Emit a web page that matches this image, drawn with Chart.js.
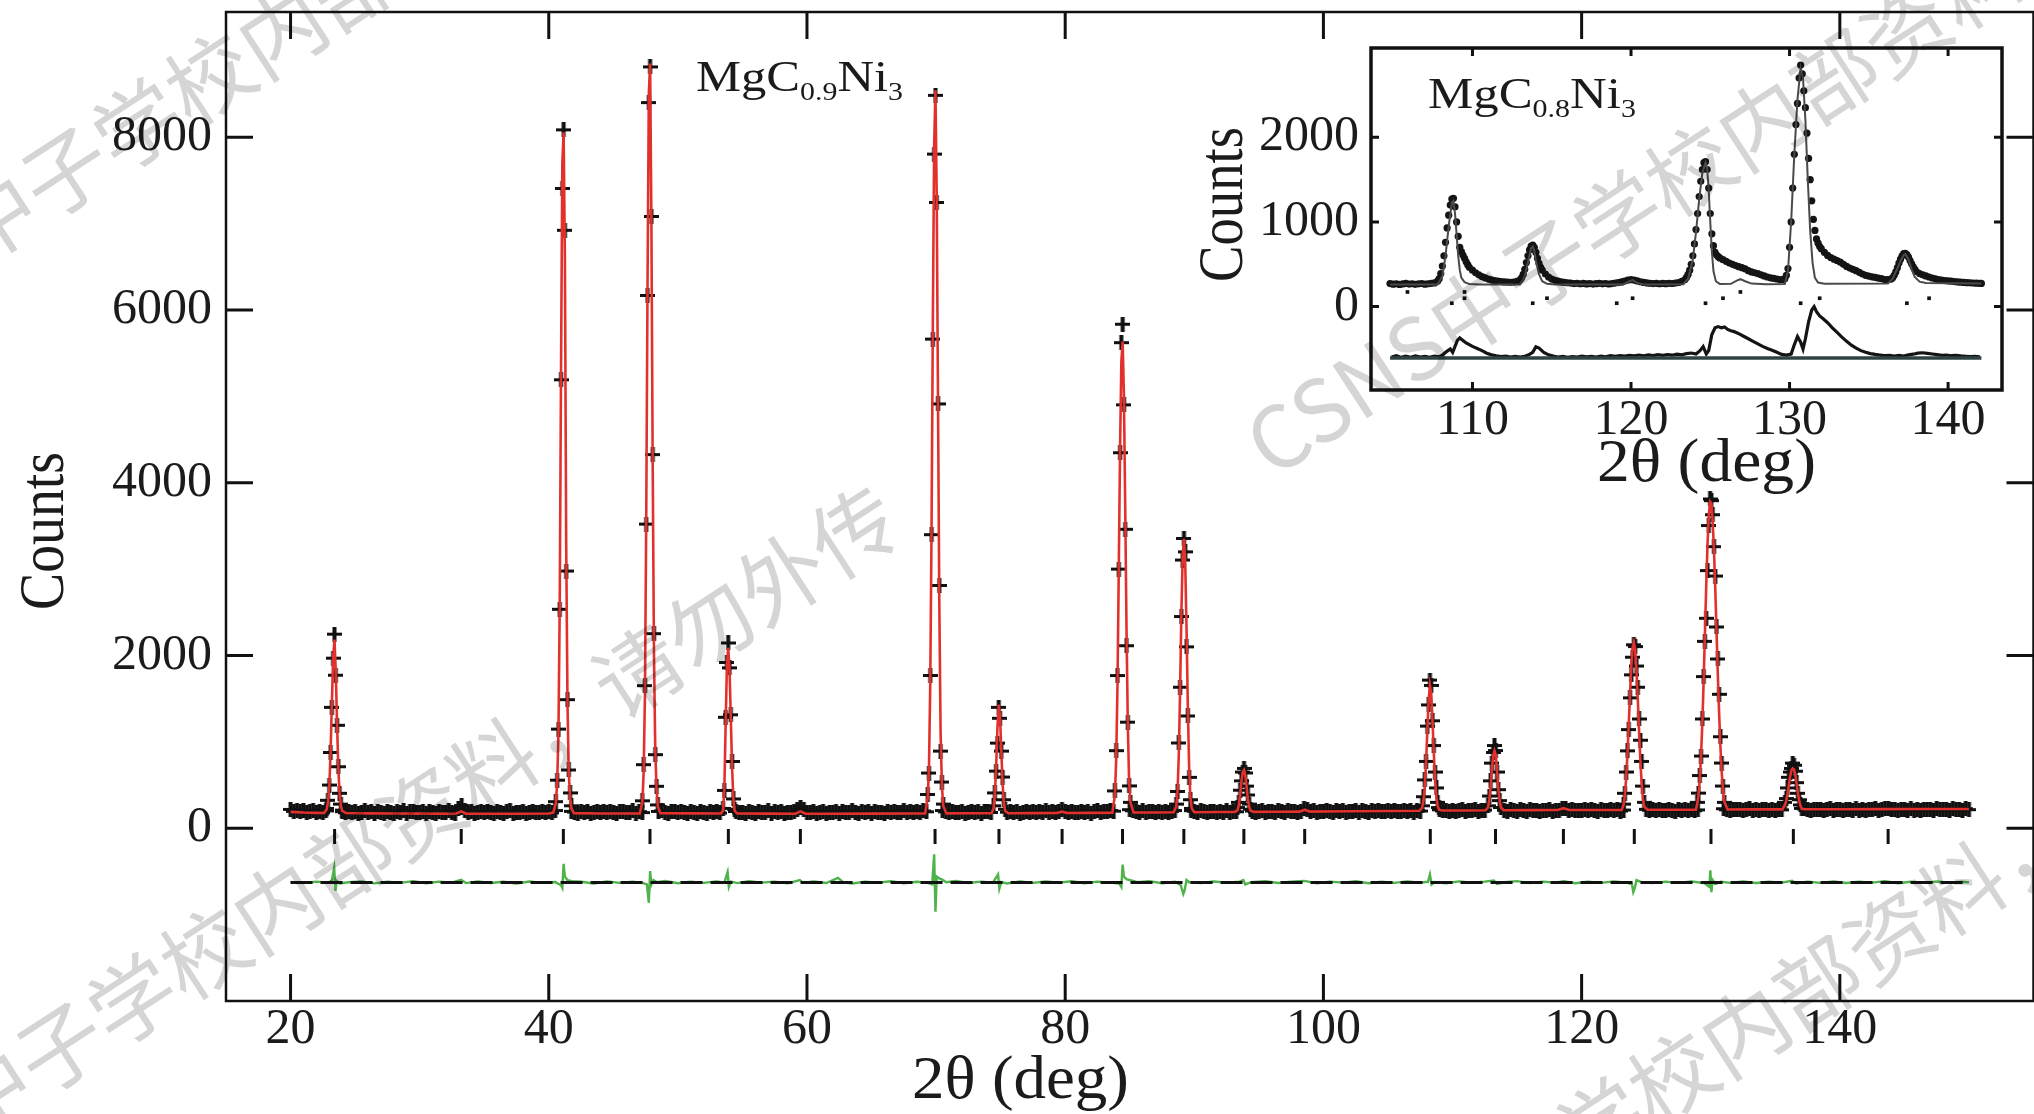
<!DOCTYPE html>
<html>
<head>
<meta charset="utf-8">
<title>MgC0.9Ni3 neutron diffraction refinement</title>
<script src="https://cdn.jsdelivr.net/npm/chart.js@4.4.1/dist/chart.umd.min.js"></script>
<style>
  html, body { margin: 0; padding: 0; background: #fff; overflow: hidden; }
  #wrap { position: relative; width: 2034px; height: 1114px; overflow: hidden; }
  #main { position: absolute; left: 0; top: 0; }
  #inset { position: absolute; left: 1180px; top: 40px; }
  #mark { position: absolute; left: 0; top: 0; mix-blend-mode: multiply; pointer-events: none; }
</style>
</head>
<body>
<div id="wrap">
  <canvas id="main" width="2044" height="1114"></canvas>
  <canvas id="inset" width="854" height="460"></canvas>
  <canvas id="mark" width="2034" height="1114"></canvas>
</div>
<script>
// ---- main pattern: MgC0.9Ni3 ----
const xTicks = [20, 40, 60, 80, 100, 120, 140];
const yTicks = [0, 2000, 4000, 6000, 8000];

// observed background, one value every 0.25 deg from 20 deg (null where a peak list takes over)
const scanStart = 20, scanStep = 0.25;
const obsBackground = [
  218, 196, 210, 189, 204, 182, 199, 207, 186, 195, 178, 201, null, null, null, null, 192, 180, 199, 186,
  194, 172, 188, 201, 179, 190, 168, 197, 183, 176, 199, 185, 170, 193, 181, 204, 175, 189, 196, 178,
  186, 199, 174, 190, 182, 168, 195, 187, 178, 201, 184, 172, 225, 262, 210, 181, 193, 175, 188, 196,
  179, 192, 185, 170, 198, 183, 176, 190, 202, 174, 187, 181, 195, 169, 188, 199, 177, 184, 193, 186,
  191, 178, 205, null, null, null, null, 196, 188, 176, 193, 182, 199, 170, 186, 194, 179, 190, 183, 197,
  184, 173, 190, 198, 179, 187, 200, 176, 192, 181, null, null, null, null, 195, 201, 183, 172, 189, 195,
  178, 191, 185, 169, 197, 182, 176, 193, 188, 171, 199, 184, 190, 177, null, null, null, null, 194, 180,
  187, 175, 196, 183, 170, 192, 186, 179, 201, 174, 189, 182, 195, 176, 188, 179, 193, 218, 246, 212,
  186, 178, 194, 170, 183, 199, 175, 188, 181, 196, 172, 190, 184, 177, 200, 186, 173, 192, 181, 189,
  176, 195, 183, 188, 171, 198, 180, 191, 177, 186, 202, 184, 193, 179, 196, 187, 200, 191, null, null,
  null, null, 205, 190, 183, 197, 178, 188, 193, 174, 186, 199, 181, 192, 176, 189, 195, 183, null, null,
  null, null, 186, 197, 180, 191, 175, 188, 199, 182, 193, 178, 190, 185, 201, 177, 194, 186, 190, 214,
  196, 181, 192, 185, 178, 199, 188, 193, 176, 190, 202, 184, 197, 189, 206, 198, null, null, null, null,
  215, 203, 197, 188, 201, 184, 195, 190, 179, 198, 187, 193, 182, 196, 205, null, null, null, null, 204,
  197, 186, 201, 190, 183, 199, 192, 178, 195, 188, 204, 185, 196, 191, null, null, null, null, 199, 187,
  194, 203, 185, 198, 190, 181, 200, 193, 187, 205, 189, 196, 184, 199, 226, 214, 191, 202, 188, 197,
  190, 204, 196, 185, 201, 193, 208, 188, 199, 192, 206, 187, 200, 195, 183, 203, 197, 210, 190, 198,
  205, 192, 211, 198, 190, 207, 196, 203, 188, 209, 199, null, null, null, null, null, 214, 201, 207, 195,
  210, 198, 204, 213, 195, 207, 200, 216, 193, 205, 211, null, null, null, null, null, 208, 199, 214, 203,
  196, 212, 205, 199, 215, 202, 208, 194, 211, 204, 217, 198, 209, 203, 230, 224, 206, 213, 200, 210,
  205, 218, 201, 212, 207, 196, 214, 209, 203, 220, 206, 215, 199, 211, null, null, null, null, null, null,
  219, 208, 215, 202, 221, 210, 204, 217, 211, 198, 214, 207, 222, 209, 216, 203, 212, null, null, null,
  null, null, null, null, 226, 214, 208, 221, 212, 218, 205, 216, 223, 210, 219, 206, 215, 222, 211, 217,
  209, 220, 213, null, null, null, null, null, null, 224, 214, 207, 221, 212, 218, 204, 216, 223, 210, 219,
  213, 207, 222, 215, 209, 224, 211, 218, 205, 220, 214, 226, 210, 217, 223, 229, 212, 219, 208, 221,
  216, 209, 224, 211, 219, 205, 222, 214, 218, 208, 225, 212, 217, 221, 210, 223, 213, 219, 207, 226,
  215
];

// observed points across the Bragg peaks
const peakObsX = [
  22.8, 22.9, 23.0, 23.1, 23.2, 23.3, 23.4, 23.5, 23.6, 23.7, 23.8, 23.9, 24.0,
  40.55, 40.65, 40.75, 40.85, 40.95, 41.05, 41.15, 41.25, 41.35, 41.45, 41.55, 41.65, 41.75,
  47.25, 47.35, 47.45, 47.55, 47.65, 47.75, 47.85, 47.95, 48.05, 48.15, 48.25, 48.35, 48.45,
  53.5, 53.6, 53.7, 53.8, 53.9, 54.0, 54.1, 54.2, 54.3, 54.4,
  69.35, 69.45, 69.55, 69.65, 69.75, 69.85, 69.95, 70.05, 70.15, 70.25, 70.35, 70.45, 70.55,
  74.45, 74.55, 74.65, 74.75, 74.85, 74.95, 75.05, 75.15, 75.25, 75.35,
  83.85, 83.95, 84.05, 84.15, 84.25, 84.35, 84.45, 84.55, 84.65, 84.75, 84.85, 84.95, 85.05,
  88.6, 88.7, 88.8, 88.9, 89.0, 89.1, 89.2, 89.3, 89.4, 89.5, 89.6, 89.7, 89.8,
  93.35, 93.45, 93.55, 93.65, 93.75, 93.85, 93.95, 94.05, 94.15, 94.25, 94.35,
  107.65, 107.75, 107.85, 107.95, 108.05, 108.15, 108.25, 108.35, 108.45, 108.55, 108.65, 108.75, 108.85, 108.95,
  112.75, 112.85, 112.95, 113.05, 113.15, 113.25, 113.35, 113.45, 113.55, 113.65, 113.75,
  123.25, 123.35, 123.45, 123.55, 123.65, 123.75, 123.85, 123.95, 124.05, 124.15, 124.25, 124.35, 124.45, 124.55, 124.65, 124.75, 124.85,
  128.95, 129.05, 129.15, 129.25, 129.35, 129.45, 129.55, 129.65, 129.75, 129.85, 129.95, 130.05, 130.15, 130.25, 130.35, 130.45, 130.55, 130.65, 130.75, 130.85, 130.95, 131.05,
  135.75, 135.85, 135.95, 136.05, 136.15, 136.25, 136.35, 136.45, 136.55, 136.65, 136.75, 136.85, 136.95, 137.05
];
const peakObsY = [
  230, 324, 500, 877, 1400, 1969, 2247, 1772, 1192, 712, 405, 280, 210,
  308, 557, 1148, 2535, 5192, 7407, 8086, 6923, 2978, 1489, 675, 409, 260,
  318, 736, 1651, 3521, 6168, 8401, 8814, 7083, 4326, 2253, 852, 486, 270,
  230, 438, 1285, 1919, 2145, 1857, 1314, 773, 340, 220,
  391, 639, 1769, 3399, 5663, 7805, 8485, 7245, 4913, 2811, 893, 535, 280,
  260, 409, 662, 986, 1400, 1273, 893, 593, 330, 220,
  432, 898, 1768, 3000, 4348, 5622, 5835, 4902, 3461, 2113, 1228, 490, 300,
  280, 426, 987, 1633, 2451, 3105, 3355, 3200, 2100, 1300, 589, 330, 230,
  240, 300, 440, 549, 651, 693, 640, 488, 385, 280, 220,
  260, 365, 560, 774, 1183, 1428, 1715, 1654, 1244, 958, 651, 467, 300, 240,
  260, 373, 549, 754, 877, 958, 900, 651, 447, 320, 240,
  280, 405, 651, 896, 1142, 1510, 1776, 1980, 2124, 2103, 1878, 1633, 1265, 1019, 774, 488, 300,
  300, 407, 610, 836, 1265, 1756, 2164, 2431, 2983, 3505, 3812, 3793, 3630, 3260, 2920, 2330, 1960, 1551, 1060, 755, 489, 300,
  300, 344, 467, 590, 651, 693, 754, 730, 660, 528, 405, 330, 270, 230
];

// calculated profile (red)
const calcX = [
  20.0, 21.0, 22.0, 22.6,
  22.8, 22.9, 23.0, 23.1, 23.2, 23.3, 23.4, 23.5, 23.6, 23.7, 23.8, 23.9, 24.0,
  24.3, 26.0, 28.0, 30.0, 32.8, 33.22, 33.6, 36.0, 38.0, 40.0, 40.35,
  40.55, 40.65, 40.75, 40.85, 40.95, 41.05, 41.15, 41.25, 41.35, 41.45, 41.55, 41.65, 41.75,
  41.95, 44.0, 47.05,
  47.25, 47.35, 47.45, 47.55, 47.65, 47.75, 47.85, 47.95, 48.05, 48.15, 48.25, 48.35, 48.45,
  48.65, 51.0, 53.35,
  53.5, 53.6, 53.7, 53.8, 53.9, 54.0, 54.1, 54.2, 54.3, 54.4,
  54.6, 57.0, 59.1, 59.49, 59.9, 62.0, 65.0, 68.0, 69.15,
  69.35, 69.45, 69.55, 69.65, 69.75, 69.85, 69.95, 70.05, 70.15, 70.25, 70.35, 70.45, 70.55,
  70.8, 73.0, 74.3,
  74.45, 74.55, 74.65, 74.75, 74.85, 74.95, 75.05, 75.15, 75.25, 75.35,
  75.6, 77.5, 79.35, 79.76, 80.15, 82.0, 83.65,
  83.85, 83.95, 84.05, 84.15, 84.25, 84.35, 84.45, 84.55, 84.65, 84.75, 84.85, 84.95, 85.05,
  85.3, 87.0, 88.4,
  88.6, 88.7, 88.8, 88.9, 89.0, 89.1, 89.2, 89.3, 89.4, 89.5, 89.6, 89.7, 89.8,
  90.0, 92.0, 93.15,
  93.35, 93.45, 93.55, 93.65, 93.75, 93.85, 93.95, 94.05, 94.15, 94.25, 94.35,
  94.6, 96.5, 98.15, 98.55, 98.95, 102.0, 105.0, 107.45,
  107.65, 107.75, 107.85, 107.95, 108.05, 108.15, 108.25, 108.35, 108.45, 108.55, 108.65, 108.75, 108.85, 108.95,
  109.2, 111.0, 112.55,
  112.75, 112.85, 112.95, 113.05, 113.15, 113.25, 113.35, 113.45, 113.55, 113.65, 113.75,
  113.95, 116.0, 118.15, 118.59, 119.05, 121.0, 123.1,
  123.25, 123.35, 123.45, 123.55, 123.65, 123.75, 123.85, 123.95, 124.05, 124.15, 124.25, 124.35, 124.45, 124.55, 124.65, 124.75, 124.85,
  125.1, 127.0, 128.85,
  128.95, 129.05, 129.15, 129.25, 129.35, 129.45, 129.55, 129.65, 129.75, 129.85, 129.95, 130.05, 130.15, 130.25, 130.35, 130.45, 130.55, 130.65, 130.75, 130.85, 130.95, 131.05,
  131.3, 133.0, 135.55,
  135.75, 135.85, 135.95, 136.05, 136.15, 136.25, 136.35, 136.45, 136.55, 136.65, 136.75, 136.85, 136.95, 137.05,
  137.3, 140.0, 143.0, 146.0, 150.0
];
const calcY = [
  190, 182, 178, 176,
  220, 300, 480, 880, 1450, 1980, 2185, 1830, 1220, 700, 390, 260, 200,
  176, 172, 170, 169, 168, 195, 168, 168, 168, 170, 180,
  290, 520, 1100, 2600, 5300, 7700, 8057, 6600, 3300, 1450, 640, 360, 230,
  175, 171, 172,
  300, 650, 1550, 3600, 6300, 8500, 8853, 7000, 4200, 2000, 900, 450, 250,
  173, 172, 171,
  210, 450, 1200, 1900, 2088, 1850, 1280, 700, 330, 200,
  170, 169, 168, 195, 168, 168, 169, 171, 172,
  350, 700, 1700, 3500, 5900, 7900, 8543, 7300, 4900, 2600, 1100, 500, 260,
  172, 173, 174,
  230, 390, 700, 1150, 1430, 1300, 900, 520, 300, 200,
  174, 175, 176, 192, 176, 178, 180,
  380, 800, 1650, 3000, 4400, 5400, 5634, 5000, 3700, 2300, 1200, 550, 300,
  182, 183, 185,
  250, 420, 850, 1600, 2500, 3150, 3350, 3050, 2300, 1400, 700, 350, 230,
  186, 188, 189,
  210, 270, 390, 540, 650, 674, 610, 480, 340, 250, 205,
  190, 191, 192, 215, 193, 197, 200, 203,
  240, 320, 480, 760, 1130, 1480, 1654, 1560, 1250, 880, 560, 360, 260, 215,
  205, 206, 208,
  240, 330, 480, 680, 840, 896, 850, 660, 460, 320, 240,
  209, 210, 211, 232, 211, 212, 213,
  270, 380, 580, 860, 1200, 1560, 1880, 2090, 2150, 2060, 1830, 1500, 1130, 790, 520, 340, 250,
  214, 215, 216,
  280, 380, 560, 840, 1220, 1700, 2250, 2800, 3280, 3620, 3780, 3760, 3560, 3220, 2780, 2280, 1780, 1330, 950, 650, 440, 310,
  217, 218, 219,
  270, 320, 400, 500, 600, 670, 693, 680, 620, 520, 410, 320, 260, 225,
  220, 220, 221, 222, 222
];

// difference curve (green), drawn around its zero line
const diffZero = -627;
const diffX = [
  20.0, 21.0, 22.0, 23.0, 23.2, 23.3, 23.38, 23.48, 23.58, 23.8, 24.5, 25.5, 26.5, 27.5, 28.5, 29.5,
  30.5, 31.5, 32.5, 33.2, 33.6, 34.5, 35.5, 36.5, 37.5, 38.5, 39.5, 40.5, 40.95, 41.05, 41.15, 41.25,
  41.45, 41.8, 42.5, 43.5, 44.5, 45.5, 46.5, 47.3, 47.6, 47.75, 47.85, 47.95, 48.1, 48.4, 49.0, 50.0,
  51.0, 52.0, 53.0, 53.6, 53.85, 53.95, 54.1, 54.6, 55.5, 56.5, 57.5, 58.5, 59.45, 59.7, 60.5, 61.5,
  62.4, 62.8, 63.5, 64.5, 65.5, 66.5, 67.5, 68.5, 69.3, 69.7, 69.85, 69.95, 70.05, 70.25, 70.5, 70.8,
  71.5, 72.5, 73.5, 74.4, 74.8, 74.9, 75.05, 75.5, 76.5, 77.5, 78.5, 79.5, 80.5, 81.5, 82.5, 83.5,
  84.2, 84.35, 84.45, 84.55, 84.75, 85.1, 85.6, 86.5, 87.5, 88.5, 88.95, 89.15, 89.25, 89.4, 89.6, 90.5,
  91.5, 92.5, 93.5, 93.8, 93.95, 94.4, 95.5, 96.5, 97.5, 98.5, 99.5, 100.5, 101.5, 102.5, 103.5, 104.5,
  105.5, 106.5, 107.5, 108.1, 108.25, 108.38, 108.6, 109.5, 110.5, 111.5, 112.5, 113.2, 113.45, 114.0, 115.0, 116.0,
  117.0, 118.0, 118.6, 119.5, 120.5, 121.5, 122.5, 123.5, 123.9, 124.0, 124.12, 124.25, 124.6, 125.5, 126.5, 127.5,
  128.5, 129.5, 129.9, 129.97, 130.05, 130.15, 130.35, 130.8, 131.5, 132.5, 133.5, 134.5, 135.5, 136.3, 136.6, 137.5,
  138.5, 139.5, 140.5, 141.5, 142.5, 143.5, 144.5, 145.5, 146.5, 147.5, 148.5, 149.5, 150.0
];
const diffY = [
  -622, -634, -618, -630, -600, -520, -454, -724, -610, -640, -625, -615, -638, -620, -632, -612,
  -636, -618, -630, -598, -635, -615, -634, -620, -640, -616, -632, -622, -660, -690, -412, -560,
  -600, -612, -620, -640, -615, -632, -618, -635, -650, -863, -496, -650, -600, -625, -610, -636,
  -618, -632, -615, -630, -507, -679, -618, -635, -612, -630, -618, -638, -600, -632, -616, -634,
  -575, -625, -640, -618, -630, -614, -636, -620, -630, -650, -302, -965, -560, -580, -598, -625,
  -610, -634, -618, -630, -535, -700, -622, -640, -615, -632, -616, -630, -614, -636, -618, -630,
  -640, -679, -420, -560, -590, -605, -625, -612, -636, -620, -660, -760, -720, -600, -625, -635,
  -616, -630, -618, -600, -650, -625, -612, -634, -620, -610, -636, -618, -630, -614, -636, -620,
  -632, -615, -630, -620, -535, -650, -622, -636, -615, -630, -618, -605, -645, -625, -612, -635,
  -618, -630, -612, -636, -620, -632, -615, -630, -650, -739, -690, -600, -622, -635, -618, -632,
  -616, -635, -680, -486, -739, -600, -645, -620, -632, -615, -634, -620, -630, -608, -640, -618,
  -632, -616, -634, -618, -630, -612, -636, -620, -632, -616, -630, -620, -627
];

// Bragg reflection markers
const braggPos = [23.41, 33.22, 41.13, 47.84, 53.91, 59.49, 69.92, 74.87, 79.76, 84.44,
  89.19, 93.84, 98.55, 108.28, 113.33, 118.59, 124.08, 130.02, 136.40, 143.74];
const braggLevel = -95;

// ---- inset: MgC0.8Ni3, 104-143 deg ----
const insetXTicks = [110, 120, 130, 140];
const insetYTicks = [0, 1000, 2000];
const insetObsX = [
  104.8, 105.0, 105.2, 105.4, 105.6, 105.8, 106.0, 106.2, 106.4, 106.6, 106.8, 107.0, 107.2, 107.4, 107.6, 107.8,
  107.9, 108.0, 108.1, 108.2, 108.3, 108.4, 108.5, 108.6, 108.7, 108.8, 108.9, 109.0, 109.1, 109.2, 109.3, 109.4,
  109.5, 109.6, 109.7, 109.8, 110.0, 110.2, 110.4, 110.6, 110.8, 111.0, 111.2, 111.4, 111.6, 111.8, 112.0, 112.2,
  112.4, 112.6, 112.8, 113.0, 113.1, 113.2, 113.3, 113.4, 113.5, 113.6, 113.7, 113.8, 113.9, 114.0, 114.1, 114.2,
  114.3, 114.4, 114.6, 114.8, 115.0, 115.2, 115.4, 115.6, 115.8, 116.0, 116.2, 116.4, 116.6, 116.8, 117.0, 117.2,
  117.4, 117.6, 117.8, 118.0, 118.2, 118.4, 118.6, 118.8, 119.0, 119.2, 119.4, 119.6, 119.8, 120.0, 120.2, 120.4,
  120.6, 120.8, 121.0, 121.2, 121.4, 121.6, 121.8, 122.0, 122.2, 122.4, 122.6, 122.8, 123.0, 123.2, 123.4, 123.5,
  123.6, 123.7, 123.8, 123.9, 124.0, 124.1, 124.2, 124.3, 124.4, 124.5, 124.6, 124.7, 124.8, 124.9, 125.0, 125.1,
  125.2, 125.3, 125.4, 125.5, 125.6, 125.8, 126.0, 126.2, 126.4, 126.6, 126.8, 127.0, 127.2, 127.4, 127.6, 127.8,
  128.0, 128.2, 128.4, 128.6, 128.8, 129.0, 129.2, 129.4, 129.6, 129.7, 129.8, 129.9, 130.0, 130.1, 130.2, 130.3,
  130.4, 130.5, 130.6, 130.7, 130.8, 130.9, 131.0, 131.1, 131.2, 131.3, 131.4, 131.5, 131.6, 131.7, 131.8, 131.9,
  132.0, 132.2, 132.4, 132.6, 132.8, 133.0, 133.2, 133.4, 133.6, 133.8, 134.0, 134.2, 134.4, 134.6, 134.8, 135.0,
  135.2, 135.4, 135.6, 135.8, 136.0, 136.2, 136.4, 136.5, 136.6, 136.7, 136.8, 136.9, 137.0, 137.1, 137.2, 137.3,
  137.4, 137.5, 137.6, 137.7, 137.8, 137.9, 138.0, 138.2, 138.4, 138.6, 138.8, 139.0, 139.2, 139.4, 139.6, 139.8,
  140.0, 140.2, 140.4, 140.6, 140.8, 141.0, 141.2, 141.4, 141.6, 141.8, 142.0, 142.1
];
const insetObsY = [
  272, 265, 270, 262, 268, 274, 266, 270, 263, 269, 273, 265, 270, 275, 280, 300,
  330, 390, 480, 600, 760, 930, 1080, 1200, 1270, 1280, 1180, 1000, 830, 700, 650, 610,
  570, 530, 495, 465, 430, 400, 375, 355, 340, 325, 315, 306, 300, 296, 292, 290,
  287, 290, 298, 315, 340, 380, 440, 520, 600, 670, 715, 728, 700, 640, 570, 510,
  465, 430, 385, 350, 325, 310, 300, 292, 286, 282, 278, 272, 276, 270, 274, 268,
  272, 266, 271, 275, 269, 273, 267, 272, 278, 284, 292, 302, 312, 318, 314, 304,
  294, 286, 280, 276, 272, 275, 270, 274, 271, 276, 273, 279, 285, 298, 320, 345,
  380, 430, 500, 600, 740, 910, 1100, 1300, 1480, 1620, 1700, 1712, 1620, 1400, 1100, 860,
  720, 640, 610, 590, 575, 555, 535, 515, 500, 485, 472, 460, 445, 425, 410, 400,
  390, 375, 362, 350, 340, 333, 326, 320, 318, 330, 370, 450, 700, 1000, 1400, 1800,
  2150, 2400, 2700, 2853, 2750, 2550, 2350, 2050, 1750, 1500, 1250, 1030, 900, 800, 750, 710,
  685, 640, 605, 580, 560, 545, 525, 500, 475, 455, 440, 425, 405, 385, 370, 360,
  352, 345, 336, 330, 320, 318, 325, 340, 370, 410, 460, 515, 560, 600, 625, 630,
  615, 585, 545, 505, 470, 440, 415, 390, 375, 362, 350, 338, 328, 320, 314, 308,
  304, 300, 296, 292, 289, 286, 283, 281, 279, 277, 276, 274
];
const insetCalcX = [
  104.8, 107.8, 108.1, 108.3, 108.5, 108.7, 108.8, 108.9, 109.0, 109.1, 109.2, 109.3, 109.5, 109.8, 110.5,
  113.0, 113.3, 113.5, 113.7, 113.8, 113.9, 114.0, 114.2, 114.4, 114.7, 115.2,
  119.5, 119.9, 120.1, 120.4, 120.8, 123.3, 123.6, 123.9, 124.1, 124.3, 124.5, 124.7, 124.8, 124.9, 125.0,
  125.1, 125.2, 125.35, 125.6, 126.3, 126.7, 126.9, 127.2, 127.6, 128.5, 129.7, 129.9, 130.1, 130.3, 130.5,
  130.7, 130.85, 131.0, 131.15, 131.3, 131.45, 131.6, 131.8, 132.2, 136.2, 136.5, 136.8, 137.0, 137.2, 137.3,
  137.5, 137.7, 137.9, 138.2, 138.6, 142.1
];
const insetCalcY = [
  262, 262, 360, 600, 950, 1230, 1250, 1100, 850, 600, 430, 340, 290, 268, 260,
  262, 360, 520, 690, 710, 660, 540, 380, 300, 270, 262,
  262, 300, 312, 280, 262, 265, 330, 560, 880, 1270, 1580, 1700, 1640, 1380, 1000,
  650, 420, 300, 268, 270, 310, 324, 300, 272, 265, 268, 420, 1000, 1800, 2450,
  2820, 2700, 2200, 1500, 900, 520, 340, 285, 270, 272, 330, 450, 540, 610, 620,
  560, 440, 350, 295, 278, 274
];
const insetZero = -608;
const insetDiffX = [
  104.9, 105.2, 105.5, 105.8, 106.1, 106.4, 106.7, 107.0, 107.3, 107.6, 107.9, 108.1, 108.3, 108.45, 108.6, 108.75,
  108.9, 109.05, 109.2, 109.4, 109.6, 109.8, 110.0, 110.3, 110.6, 110.9, 111.2, 111.5, 111.8, 112.1, 112.4, 112.7,
  113.0, 113.3, 113.55, 113.8, 114.0, 114.2, 114.5, 114.8, 115.1, 115.4, 115.7, 116.0, 116.3, 116.6, 116.9, 117.2,
  117.5, 117.8, 118.1, 118.4, 118.7, 119.0, 119.3, 119.6, 119.9, 120.2, 120.5, 120.8, 121.1, 121.4, 121.7, 122.0,
  122.3, 122.6, 122.9, 123.2, 123.5, 123.8, 124.1, 124.35, 124.55, 124.75, 124.9, 125.1, 125.3, 125.5, 125.7, 125.9,
  126.1, 126.3, 126.5, 126.8, 127.1, 127.4, 127.7, 128.0, 128.3, 128.6, 128.9, 129.2, 129.5, 129.8, 130.1, 130.3,
  130.5, 130.7, 130.85, 131.0, 131.2, 131.4, 131.55, 131.7, 131.9, 132.1, 132.4, 132.7, 133.0, 133.3, 133.6, 133.9,
  134.2, 134.5, 134.8, 135.1, 135.4, 135.7, 136.0, 136.3, 136.6, 136.9, 137.2, 137.5, 137.8, 138.1, 138.4, 138.7,
  139.0, 139.3, 139.6, 139.9, 140.2, 140.5, 140.8, 141.1, 141.4, 141.7, 142.0
];
const insetDiffY = [
  -595, -580, -600, -585, -598, -582, -596, -588, -600, -584, -592, -575, -540, -520, -500, -540,
  -470, -400, -370, -400, -430, -450, -470, -495, -520, -550, -570, -582, -590, -585, -596, -588,
  -595, -586, -570, -540, -475, -490, -540, -570, -585, -595, -588, -598, -590, -596, -585, -592,
  -588, -596, -584, -592, -580, -586, -578, -584, -575, -582, -572, -580, -570, -578, -568, -576,
  -566, -574, -562, -570, -556, -548, -560, -520, -472, -560, -520, -330, -250, -236, -250, -240,
  -270, -285, -295, -320, -350, -380, -410, -440, -470, -495, -515, -540, -565, -572, -560, -450,
  -354, -420, -500, -380, -180, -40, 0, -60, -110, -140, -190, -250, -305, -360, -410, -455,
  -490, -520, -540, -555, -565, -572, -578, -575, -583, -576, -584, -570, -562, -550, -545, -552,
  -560, -568, -575, -572, -580, -575, -582, -586, -590, -588, -594
];
const insetBraggX = [105.9, 108.7, 109.5, 109.5, 113.8, 114.7, 119.1, 120.1, 124.7, 125.8, 126.9, 130.7, 131.9, 137.4, 138.8];
const insetBraggY = [173, 40, 173, 99, 40, 99, 40, 99, 40, 99, 173, 40, 99, 40, 99];

// ---- helpers ----
const SERIF = '"Liberation Serif", "Times New Roman", serif';
const INK = '#1b1b1b';
Chart.defaults.font.family = SERIF;
Chart.defaults.color = INK;

const pts = (xs, ys) => xs.map((x, i) => ({ x: x, y: ys[i] }));
const scanPts = obsBackground
  .map((v, i) => ({ x: scanStart + i * scanStep, y: v }))
  .filter(p => p.y !== null);

// "+" marker used by the observed data
const plus = document.createElement('canvas');
plus.width = 15; plus.height = 15;
(function () {
  const c = plus.getContext('2d');
  c.fillStyle = '#111';
  c.fillRect(0, 6, 15, 3);
  c.fillRect(5.5, 0, 4, 15);
})();

function drawFitted(ctx, text, x, y, size, width, angle) {
  ctx.save();
  ctx.font = size + 'px ' + SERIF;
  ctx.fillStyle = INK;
  ctx.textAlign = 'left';
  ctx.textBaseline = 'alphabetic';
  const k = width / ctx.measureText(text).width;
  ctx.translate(x, y);
  ctx.rotate(angle || 0);
  ctx.scale(k, 1);
  ctx.fillText(text, 0, 0);
  ctx.restore();
}

// chemical formula with subscripts, stretched to the given width
function drawFormula(ctx, runs, left, baseline, size, width) {
  ctx.save();
  ctx.fillStyle = INK;
  ctx.textBaseline = 'alphabetic';
  const fonts = runs.map(r => (r[1] ? Math.round(size * 0.6) : size) + 'px ' + SERIF);
  let total = 0;
  runs.forEach((r, i) => { ctx.font = fonts[i]; total += ctx.measureText(r[0]).width; });
  ctx.translate(left, baseline);
  ctx.scale(width / total, 1);
  let cx = 0;
  runs.forEach((r, i) => {
    ctx.font = fonts[i];
    ctx.fillText(r[0], cx, r[1] ? size * 0.2 : 0);
    cx += ctx.measureText(r[0]).width;
  });
  ctx.restore();
}

// box around the plot with inward ticks
function drawFrame(chart, o) {
  const ctx = chart.ctx, a = chart.chartArea;
  const xs = chart.scales.x, ys = chart.scales.y;
  ctx.save();
  ctx.strokeStyle = '#111';
  ctx.lineWidth = o.frame;
  ctx.strokeRect(a.left, a.top, a.right - a.left, a.bottom - a.top);
  ctx.lineWidth = o.tickWidth;
  ctx.beginPath();
  o.xTicks.forEach(v => {
    const px = xs.getPixelForValue(v);
    ctx.moveTo(px, a.bottom); ctx.lineTo(px, a.bottom - o.len);
    ctx.moveTo(px, a.top); ctx.lineTo(px, a.top + o.len);
  });
  o.yTicks.forEach(v => {
    const py = ys.getPixelForValue(v);
    ctx.moveTo(a.left, py); ctx.lineTo(a.left + o.len, py);
    ctx.moveTo(a.right, py); ctx.lineTo(a.right - o.len, py);
  });
  ctx.stroke();
  ctx.restore();
}

function axis(min, max, ticks, padding, fit, key) {
  return {
    type: 'linear', min: min, max: max,
    grid: { display: false, drawTicks: false },
    border: { display: false },
    afterBuildTicks: s => { s.ticks = ticks.map(v => ({ value: v })); },
    afterFit: s => {
      s[key] = fit;
      s.paddingTop = 0; s.paddingBottom = 0; s.paddingLeft = 0; s.paddingRight = 0;
    },
    ticks: { autoSkip: false, maxRotation: 0, padding: padding, color: INK,
      callback: v => String(v),
      font: { family: SERIF, size: 50, lineHeight: 1 } }
  };
}

// ---- main chart ----
new Chart(document.getElementById('main'), {
  type: 'scatter',
  data: {
    datasets: [
      { data: pts(calcX, calcY), showLine: true, borderColor: '#e2312d', borderWidth: 2.6,
        pointRadius: 0, order: 0 },
      { data: [{ x: 20, y: diffZero }, { x: 150, y: diffZero }], showLine: true, borderColor: '#111',
        borderWidth: 3, borderDash: [22, 8], pointRadius: 0, order: 1 },
      { data: pts(diffX, diffY), showLine: true, borderColor: '#4db34a', borderWidth: 2.4,
        pointRadius: 0, order: 2 },
      { data: braggPos.map(x => ({ x: x, y: braggLevel })), pointStyle: 'line', rotation: 90,
        pointRadius: 7.5, borderWidth: 3, borderColor: '#111', order: 3 },
      { data: pts(peakObsX, peakObsY), pointStyle: plus, pointRadius: 5, order: 4 },
      { data: scanPts, pointStyle: plus, pointRadius: 5, order: 5 }
    ]
  },
  options: {
    responsive: false, animation: false, devicePixelRatio: 1,
    layout: { padding: { top: 12, right: 2, left: 0, bottom: 0 } },
    plugins: { legend: { display: false }, tooltip: { enabled: false } },
    scales: {
      x: axis(15, 155, xTicks, 4, 113, 'height'),
      y: axis(-2000, 9450, yTicks, 14, 226, 'width')
    }
  },
  plugins: [{
    id: 'mainDecor',
    beforeDraw(chart) {
      const ctx = chart.ctx;
      ctx.save(); ctx.fillStyle = '#fff'; ctx.fillRect(0, 0, chart.width, chart.height); ctx.restore();
    },
    afterDraw(chart) {
      const ctx = chart.ctx;
      drawFrame(chart, { frame: 2.5, tickWidth: 3, len: 27, xTicks: xTicks, yTicks: yTicks });
      drawFormula(ctx, [['MgC', 0], ['0.9', 1], ['Ni', 0], ['3', 1]], 696, 91, 44, 207);
      drawFitted(ctx, 'Counts', 63, 610, 64, 158, -Math.PI / 2);
      drawFitted(ctx, '2\u03b8 (deg)', 912, 1098, 62, 217);
    }
  }]
});

// ---- inset chart ----
new Chart(document.getElementById('inset'), {
  type: 'scatter',
  data: {
    datasets: [
      { data: pts(insetCalcX, insetCalcY), showLine: true, borderColor: '#4a4a4a', borderWidth: 2,
        pointRadius: 0, order: 0 },
      { data: [{ x: 104.8, y: insetZero }, { x: 142.1, y: insetZero }], showLine: true,
        borderColor: '#2e4442', borderWidth: 3.5, pointRadius: 0, order: 1 },
      { data: pts(insetDiffX, insetDiffY), showLine: true, borderColor: '#141414', borderWidth: 3.2,
        pointRadius: 0, order: 2 },
      { data: pts(insetObsX, insetObsY), pointStyle: 'circle', pointRadius: 3.6, borderWidth: 0,
        backgroundColor: '#141414', order: 3 },
      { data: pts(insetBraggX, insetBraggY), pointStyle: 'rect', pointRadius: 2.6, borderWidth: 0,
        backgroundColor: '#111', order: 4 }
    ]
  },
  options: {
    responsive: false, animation: false, devicePixelRatio: 1,
    layout: { padding: { top: 8, right: 32, left: 0, bottom: 0 } },
    plugins: { legend: { display: false }, tooltip: { enabled: false } },
    scales: {
      x: axis(103.6, 143.4, insetXTicks, 6, 110, 'height'),
      y: axis(-985, 3055, insetYTicks, 12, 191, 'width')
    }
  },
  plugins: [{
    id: 'insetDecor',
    beforeDraw(chart) {
      const a = chart.chartArea, ctx = chart.ctx;
      ctx.save(); ctx.fillStyle = '#fff';
      ctx.fillRect(a.left, a.top, a.right - a.left, a.bottom - a.top);
      ctx.restore();
    },
    afterDraw(chart) {
      const ctx = chart.ctx;
      drawFrame(chart, { frame: 3.5, tickWidth: 3, len: 8, xTicks: insetXTicks, yTicks: insetYTicks });
      drawFormula(ctx, [['MgC', 0], ['0.8', 1], ['Ni', 0], ['3', 1]], 248, 68, 44, 208);
      drawFitted(ctx, 'Counts', 62, 242, 64, 155, -Math.PI / 2);
      drawFitted(ctx, '2\u03b8 (deg)', 417, 441, 62, 219);
    }
  }]
});

// ---- watermark from the source figure ----
(function () {
  const cv = document.getElementById('mark');
  const ctx = cv.getContext('2d');
  const starts = [[-225, 360], [1255, 452], [-230, 1235], [1238, 1359]];
  ctx.font = '86px "Noto Sans CJK SC", sans-serif';
  ctx.fillStyle = '#d5d5d5';
  ctx.textBaseline = 'middle';
  starts.forEach(s => {
    ctx.save();
    ctx.translate(s[0], s[1]);
    ctx.rotate(-33 * Math.PI / 180);
    ctx.fillText('CSNS中子学校内部资料，请勿外传', 0, 0);
    ctx.restore();
  });
})();
</script>
</body>
</html>
